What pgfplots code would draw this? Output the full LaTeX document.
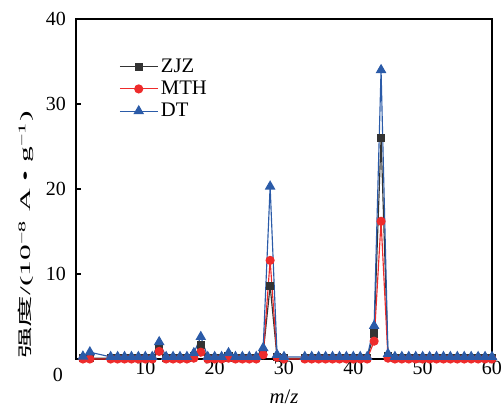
\documentclass[border=0pt]{standalone}
\usepackage{graphicx}
\usepackage{pgfplots}
\pgfplotsset{compat=1.18}
\usepackage{pgfplotstable}
\usepackage{fontspec}
\setmainfont{Liberation Serif}
\newfontfamily\cjk{Noto Sans CJK SC}
\definecolor{cZ}{HTML}{333333}
\definecolor{cM}{HTML}{EE2B2B}
\definecolor{cD}{HTML}{2B5BA8}
\pgfplotstableread{
x z m d
1 0.1 0.0 0.3
2 0.1 0.0 0.8
5 0.1 0.0 0.25
6 0.1 0.0 0.25
7 0.1 0.0 0.25
8 0.1 0.0 0.25
9 0.1 0.0 0.25
10 0.1 0.0 0.25
11 0.1 0.0 0.25
12 1.2 0.9 2.0
13 0.1 0.0 0.25
14 0.1 0.0 0.25
15 0.1 0.0 0.25
16 0.1 0.0 0.25
17 0.3 0.1 0.7
18 1.6 0.8 2.6
19 0.1 0.0 0.25
20 0.1 0.0 0.25
21 0.1 0.0 0.25
22 0.3 0.1 0.7
23 0.1 0.0 0.25
24 0.1 0.0 0.25
25 0.1 0.0 0.25
26 0.1 0.0 0.25
27 0.7 0.5 1.3
28 8.6 11.6 20.3
29 0.2 0.2 0.5
30 0.1 0.0 0.25
33 0.1 0.0 0.25
34 0.1 0.0 0.25
35 0.1 0.0 0.25
36 0.1 0.0 0.25
37 0.1 0.0 0.25
38 0.1 0.0 0.25
39 0.1 0.0 0.25
40 0.1 0.0 0.25
41 0.1 0.0 0.25
42 0.1 0.0 0.25
43 3.0 2.1 3.9
44 26.0 16.2 34.0
45 0.3 0.1 0.6
46 0.1 0.0 0.25
47 0.1 0.0 0.25
48 0.1 0.0 0.25
49 0.1 0.0 0.25
50 0.1 0.0 0.25
51 0.1 0.0 0.25
52 0.1 0.0 0.25
53 0.1 0.0 0.25
54 0.1 0.0 0.25
55 0.1 0.0 0.25
56 0.1 0.0 0.25
57 0.1 0.0 0.25
58 0.1 0.0 0.25
59 0.1 0.0 0.25
60 0.1 0.0 0.25
}\datatab
\begin{document}
\begin{tikzpicture}
\begin{axis}[
  name=ax,
  scale only axis,
  width=312pt, height=255pt,
  xmin=0, xmax=60, ymin=0, ymax=40,
  clip=false,
  axis line style={line width=0.8pt},
  xtick={10,20,30,40,50,60},
  ytick={10,20,30,40},
  tick align=inside,
  xtick pos=bottom, ytick pos=left,
  major tick length=4pt,
  tick style={line width=0.8pt, black},
  font=\fontsize{15}{17}\selectfont,
  /pgf/number format/assume math mode=true,
  yticklabel style={xshift=-4pt},
  xticklabel style={yshift=2pt},
  xlabel={\textit{m}/\textit{z}},
  xlabel style={font=\fontsize{15.5}{17}\selectfont, at={(rel axis cs:0.5,-0.112)}, anchor=center},
  ylabel={\scalebox{2.15}[1]{{\cjk 强度}/(10\textsuperscript{−8} A • g\textsuperscript{−1})}},
  ylabel style={font=\fontsize{11}{13}\selectfont, at={(rel axis cs:-0.12,0.365)}, anchor=center},
  legend style={draw=none, fill=none, at={(rel axis cs:0.10,0.895)}, anchor=north west, font=\fontsize{15.5}{17}\selectfont, row sep=1pt, inner sep=1pt},
  legend cell align=left,
  legend image code/.code={\draw[mark repeat=2,mark phase=2] plot coordinates {(0cm,0cm) (0.5cm,0cm) (1cm,0cm)};},
]
\addplot[cZ, line width=0.85pt, mark=square*, mark size=2.6pt, mark options={fill=cZ, draw=cZ}] table[x=x,y=z]{\datatab};
\addlegendentry{ZJZ}
\addplot[cM, line width=0.85pt, mark=*, mark size=3pt, mark options={fill=cM, draw=cM}] table[x=x,y=m]{\datatab};
\addlegendentry{MTH}
\addplot[cD, line width=0.85pt, mark=triangle*, mark size=3.8pt, mark options={fill=cD, draw=cD}] table[x=x,y=d]{\datatab};
\addlegendentry{DT}
\node[font=\fontsize{15}{17}\selectfont] at (axis cs:0,0) [xshift=-13.5pt, yshift=-12pt] {0};
\end{axis}
\pgfresetboundingbox
\path[use as bounding box] (ax.south west) ++(-57pt,-38.25pt) rectangle ++(375.75pt,307.5pt);
\end{tikzpicture}
\end{document}
